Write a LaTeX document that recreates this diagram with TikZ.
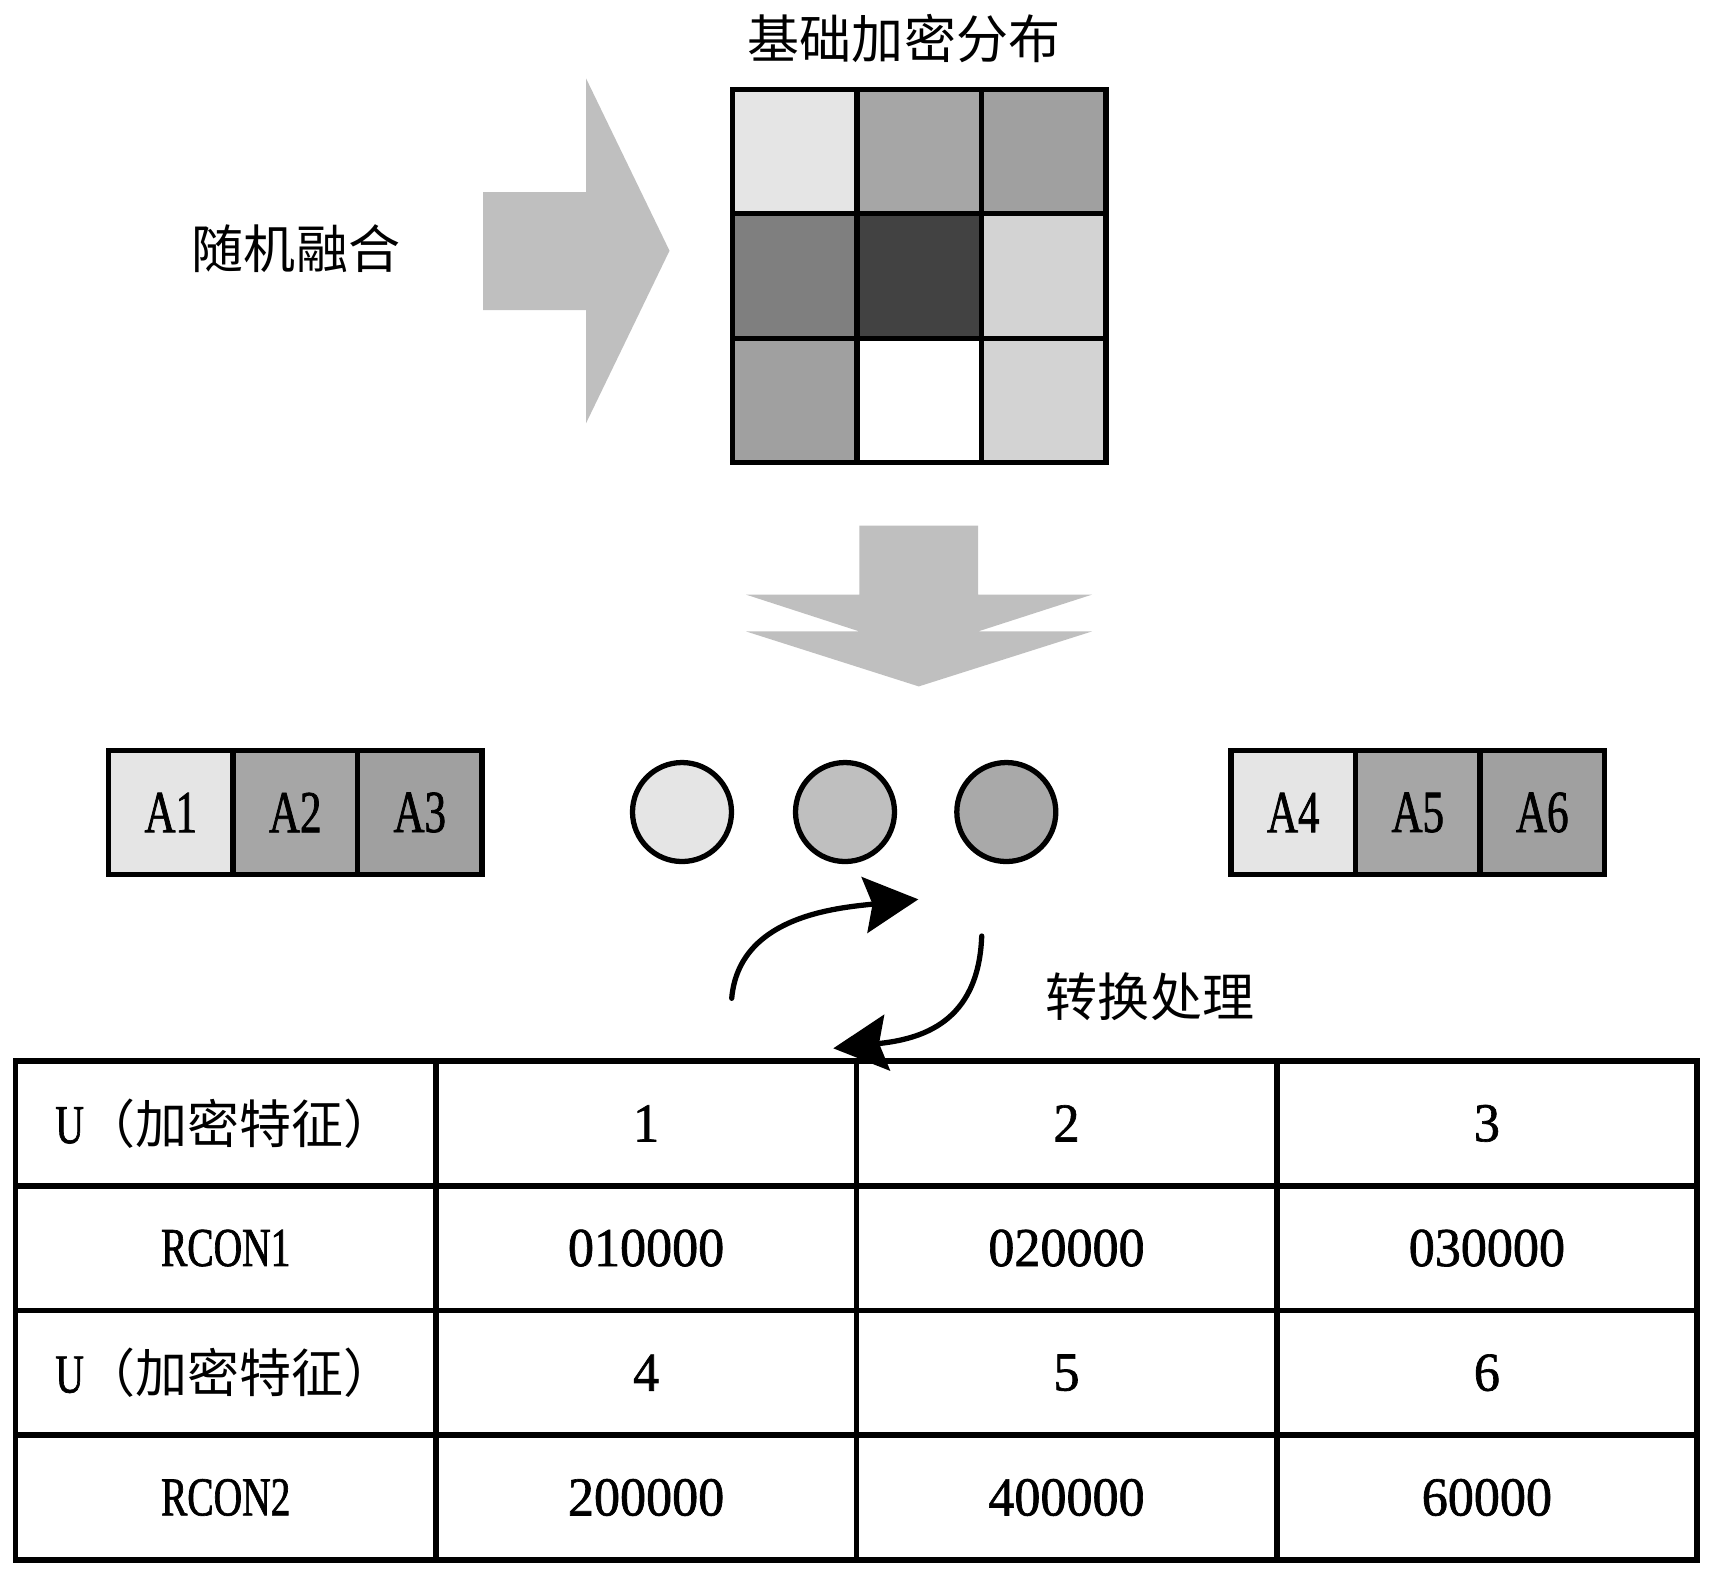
\documentclass[tikz,border=0pt]{standalone}
\usepackage{fontspec}
\setmainfont{Liberation Serif}[FakeStretch=0.95, FakeBold=1.2]
\newfontfamily\lbl{Liberation Serif}[FakeStretch=0.72, FakeBold=1.2]
\newfontfamily\cjk{Noto Sans CJK SC}
\usepackage{tikz}
\usetikzlibrary{arrows.meta, positioning}

\definecolor{arrowgray}{HTML}{BFBFBF}
\definecolor{shadeA}{HTML}{E5E5E5}
\definecolor{shadeB}{HTML}{A6A6A6}
\definecolor{shadeC}{HTML}{A0A0A0}
\definecolor{shadeD}{HTML}{7F7F7F}
\definecolor{shadeE}{HTML}{424242}
\definecolor{shadeF}{HTML}{D3D3D3}
\definecolor{shadeG}{HTML}{A9A9A9}

\newcommand{\encfeat}{{\lbl U}{\fontsize{14.8pt}{17pt}\cjk（加密特征）}}

\begin{document}
\begin{tikzpicture}[
    cell/.style={draw, line width=1.5pt, minimum size=1.245cm, inner sep=0pt, outer sep=0pt},
    abox/.style={cell, font=\fontsize{17pt}{20pt}\lbl},
    token/.style={circle, draw, line width=1.5pt, minimum size=0.99cm, inner sep=0pt},
    tcell/.style={draw, line width=1.6pt, minimum width=4.204cm, minimum height=1.247cm, inner sep=0pt, outer sep=0pt, font=\fontsize{15.6pt}{18pt}\selectfont},
    cn/.style={font=\fontsize{14.8pt}{17pt}\cjk},
    swap/.style={-{Stealth[length=5.4mm, width=5.6mm, inset=0.8mm]}, line width=1.5pt, line cap=round}
]
\useasboundingbox (0,0) rectangle (17.15,-15.75);

% Define nodes
% base distribution grid
\foreach \r/\c/\col in {1/1/shadeA, 1/2/shadeB, 1/3/shadeC,
                        2/1/shadeD, 2/2/shadeE, 2/3/shadeF,
                        3/1/shadeC, 3/2/white,  3/3/shadeF}
  \node[cell, fill=\col] (g\r\c) at ({7.9475+1.245*(\c-1)}, {-1.5145-1.245*(\r-1)}) {};
\node[cn] (title) at (9.04,-0.383) {基础加密分布};

% fusion arrow
\fill[arrowgray] (4.83,-1.92) -- (5.86,-1.92) -- (5.86,-0.783) -- (6.695,-2.507)
  -- (5.86,-4.233) -- (5.86,-3.10) -- (4.83,-3.10) -- cycle;
\node[cn] (fuse) at (2.96,-2.483) {随机融合};

% down arrow
\fill[arrowgray] (9.1875,-6.864) -- (7.46,-6.314) -- (8.594,-6.314) -- (7.46,-5.946)
  -- (8.594,-5.946) -- (8.594,-5.257) -- (9.781,-5.257) -- (9.781,-5.946)
  -- (10.92,-5.946) -- (9.781,-6.314) -- (10.92,-6.314) -- cycle;

% key blocks
\node[abox, fill=shadeA] (A1) at (1.7075,-8.125) {A1};
\node[abox, fill=shadeB, right=0pt of A1] (A2) {A2};
\node[abox, fill=shadeC, right=0pt of A2] (A3) {A3};
\node[abox, fill=shadeA] (A4) at (12.9325,-8.125) {A4};
\node[abox, fill=shadeB, right=0pt of A4] (A5) {A5};
\node[abox, fill=shadeC, right=0pt of A5] (A6) {A6};

% tokens
\node[token, fill=shadeA] (k1) at (6.82,-8.12) {};
\node[token, fill=arrowgray] (k2) at (8.45,-8.12) {};
\node[token, fill=shadeG] (k3) at (10.063,-8.12) {};

% Define arrows
\coordinate (s1) at (7.317,-9.983);
\coordinate (e1) at (9.183,-8.993);
\coordinate (s2) at (9.817,-9.36);
\coordinate (e2) at (8.333,-10.483);
\draw[swap] (s1) to[out=85, in=186] (e1);
\draw[swap] (s2) to[out=-92, in=6, looseness=1.2] (e2);
\node[cn] (conv) at (11.50,-9.97) {转换处理};

% round constant table
\foreach \r/\ta/\tb/\tc/\td in {1/\encfeat/1/2/3,
                               2/{\lbl RCON1}/010000/020000/030000,
                               3/\encfeat/4/5/6,
                               4/{\lbl RCON2}/200000/400000/60000} {
  \node[tcell] (t\r1) at (2.257, {-10.61-1.247*(\r-0.5)}) {\ta};
  \node[tcell, right=0pt of t\r1] (t\r2) {\tb};
  \node[tcell, right=0pt of t\r2] (t\r3) {\tc};
  \node[tcell, right=0pt of t\r3] (t\r4) {\td};
}

\end{tikzpicture}
\end{document}
